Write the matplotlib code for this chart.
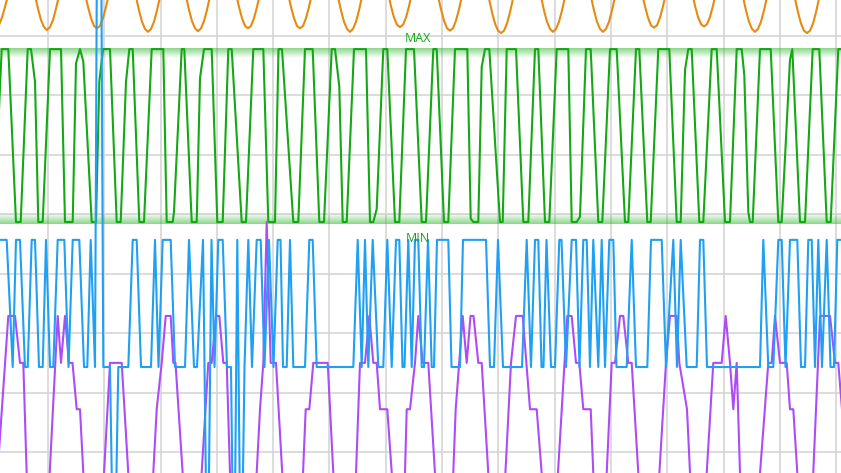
import numpy as np
import matplotlib
matplotlib.use("Agg")
import matplotlib.pyplot as plt
from matplotlib.colors import to_rgb

# ---------------- data (time, value) ----------------
green_pts = [(-6, 38.7), (1.7, 67.8), (8.3, 67.8), (16, 38.7), (20.7, 38.7), (27.7, 67.8), (31, 67.8), (35, 62.3),
             (38.3, 38.7), (42.7, 38.7), (50, 67.8), (61, 67.8), (65, 38.7), (72.7, 38.7), (76, 65.4), (80, 67.8),
             (83.3, 65.7), (91.7, 38.7), (96, 38.7), (99.3, 62.3), (103, 67.8), (110, 67.8), (116.7, 38.7),
             (120.7, 38.7), (126, 62.3), (129.3, 67.8), (132.7, 67.8), (139.3, 38.7), (144, 38.7), (151.7, 67.8),
             (163.3, 67.8), (166.7, 38.7), (172.7, 38.7), (174, 40.4), (181.7, 67.8), (184.3, 67.8), (191.7, 38.7),
             (196.7, 38.7), (200, 62.9), (204, 67.8), (211.7, 67.8), (217.3, 38.7), (222.7, 38.7), (228.3, 67.8),
             (231.7, 67.8), (241.7, 38.7), (246, 38.7), (253.3, 67.8), (263.3, 67.8), (268.3, 38.7), (275, 38.7),
             (278.5, 67.8), (282, 67.8), (293.3, 38.7), (298.3, 38.7), (305, 67.8), (312.7, 67.8), (319.3, 38.7),
             (324, 38.7), (331.7, 67.8), (335, 67.8), (339.3, 61.5), (342.7, 38.7), (346.7, 38.7), (354, 67.8),
             (366, 67.8), (370, 38.7), (373.3, 38.7), (376.7, 40.9), (383.3, 67.8), (387.3, 67.8), (395, 38.7),
             (399.3, 38.7), (406, 67.8), (414, 67.8), (421.7, 38.7), (426, 38.7), (433.3, 67.8), (436.7, 67.8),
             (444, 38.7), (448.3, 38.7), (455, 67.8), (467.3, 67.8), (470.7, 39.3), (473.3, 38.7), (478.3, 38.7),
             (481.7, 64.8), (485, 67.8), (489.3, 67.8), (500, 38.7), (502.7, 38.7), (506.7, 67.8), (516, 67.8),
             (523.3, 38.7), (528.3, 38.7), (535, 67.8), (538.3, 67.8), (545, 38.7), (549.3, 38.7), (556.7, 67.8),
             (568.3, 67.8), (571.7, 38.7), (576.7, 38.7), (580, 39.6), (586, 67.8), (590.7, 67.8), (598.3, 38.7),
             (602.3, 38.7), (610, 67.8), (616.7, 67.8), (625, 38.7), (628.3, 38.7), (636, 67.8), (639.3, 67.8),
             (647.3, 38.7), (650.7, 38.7), (658.3, 67.8), (669.3, 67.8), (676.7, 38.7), (680.7, 38.7), (685, 64.3),
             (688.3, 67.8), (691.7, 67.8), (699.3, 38.7), (703.3, 38.7), (711.7, 67.8), (716.7, 67.8), (725, 38.7),
             (730, 38.7), (736.7, 67.8), (741.7, 67.8), (744.3, 63.4), (748.3, 40.4), (750, 38.7), (752.7, 38.7),
             (760, 67.8), (770.7, 67.8), (778.3, 38.7), (781.7, 38.7), (790, 66.0), (792.3, 67.8), (800, 38.7),
             (805, 38.7), (812.7, 67.8), (819.3, 67.8), (826.7, 38.7), (830.7, 38.7), (838.3, 67.8), (845, 67.8)]
green_t, green_v = zip(*green_pts)

blue_pts = [(-2, 35.7), (6.7, 35.7), (12.7, 14.3), (16, 35.7), (20, 35.7), (25, 14.3), (27.7, 14.3), (31.7, 35.7),
            (35, 35.7), (39, 14.3), (42.7, 14.3), (46, 35.7), (50, 14.3), (53.3, 14.3), (57.7, 35.7), (64.3, 35.7),
            (68.5, 14.3), (72.7, 35.7), (79.3, 35.7), (84, 14.3), (87.3, 14.3), (90.7, 35.7), (95, 14.3),
            (99, 159.5), (103.3, 14.3), (110, 14.3), (114, -27.6), (118.3, 14.3), (128.3, 14.3), (132.7, 35.7),
            (136.7, 35.7), (141, 14.3), (151, 14.3), (155, 35.7), (158.5, 14.3), (162.7, 35.7), (170.7, 35.7),
            (175, 14.3), (185, 14.3), (189, 35.7), (194, 14.3), (197, 14.3), (203, 35.7), (207.5, -27.6),
            (211.5, 35.7), (214.5, 14.3), (218.3, 35.7), (222.7, 35.7), (227, 14.3), (231, 14.3), (234, -27.6),
            (237.3, 35.7), (241, -27.6), (244.5, 14.3), (248.3, 35.7), (252, 14.3), (256.7, 35.7), (260.7, 35.7),
            (264.5, 14.3), (269, 35.7), (273.5, 14.3), (277.7, 35.7), (280.5, 35.7), (283, 14.3), (286.7, 14.3),
            (290, 35.7), (293.3, 14.3), (305, 14.3), (309.3, 35.7), (312.7, 35.7), (316.7, 14.3), (353.3, 14.3),
            (357.7, 35.7), (361.7, 14.3), (365, 35.7), (368.3, 14.3), (372.7, 35.7), (378.3, 14.3), (383.3, 14.3),
            (387.3, 35.7), (391.7, 14.3), (396, 35.7), (399.3, 35.7), (402.5, 14.3), (404.5, 14.3), (408.3, 35.7),
            (411.7, 14.3), (415, 35.7), (418.3, 35.7), (421.7, 14.3), (424, 14.3), (428, 35.7), (431.7, 14.3),
            (434, 14.3), (437, 35.7), (448.3, 35.7), (451.5, 14.3), (460, 14.3), (463, 35.7), (486, 35.7),
            (490, 14.3), (494, 14.3), (498, 35.7), (503, 14.3), (522, 14.3), (526.7, 35.7), (531, 14.3),
            (535, 35.7), (538.3, 35.7), (541.5, 14.3), (543.5, 14.3), (546.5, 35.7), (551, 14.3), (555, 14.3),
            (559.3, 35.7), (561.5, 35.7), (566, 14.3), (571.7, 35.7), (576, 35.7), (579.5, 14.3), (583.3, 35.7),
            (586.7, 35.7), (590, 14.3), (593.3, 35.7), (598.3, 14.3), (601.7, 35.7), (605, 14.3), (609.3, 35.7),
            (613.3, 35.7), (616.5, 14.3), (626.7, 14.3), (631.7, 35.7), (636, 14.3), (647.3, 14.3), (651, 35.7),
            (661.7, 35.7), (666, 14.3), (673.3, 35.7), (677, 14.3), (680.7, 35.7), (686.7, 14.3), (696.7, 14.3),
            (700, 35.7), (703.3, 35.7), (707, 14.3), (760, 14.3), (763.3, 35.7), (768.3, 14.3), (773.3, 14.3),
            (778.3, 35.7), (781.7, 35.7), (785.5, 14.3), (790, 35.7), (797.3, 35.7), (801, 14.3), (805, 14.3),
            (808.3, 35.7), (811.7, 35.7), (815, 14.3), (818.3, 35.7), (822, 14.3), (826.7, 35.7), (830.5, 14.3),
            (834, 14.3), (837.3, 35.7), (845, 35.7)]
blue_t, blue_v = zip(*blue_pts)

purple_pts = [(-2, -2.3), (8.3, 22.9), (15, 22.9), (20, 15.0), (23.3, 15.0), (28.7, -14.8), (46.3, -14.8),
              (57.7, 22.9), (61, 15.0), (65, 22.9), (69, 15.0), (72.5, 15.0), (76.7, 7.2), (80, 7.2),
              (86.8, -14.8), (100.4, -14.8), (110, 15.0), (121.7, 15.0), (132.3, -14.8), (149.7, -14.8),
              (156.7, 7.2), (161.7, 15.0), (165.7, 22.9), (170.7, 22.9), (173.3, 15.0), (175.5, 15.0),
              (187, -14.8), (197.6, -14.8), (208.3, 15.0), (211.7, 15.0), (216, 22.9), (219.3, 22.9),
              (223.3, 15.0), (226.7, 15.0), (232, -14.8), (253.2, -14.8), (260, 7.2), (263.3, 15.0),
              (266.7, 38.7), (270.7, 15.0), (276, 15.0), (286, -14.8), (300.2, -14.8), (305.7, 7.2), (309.3, 7.2),
              (313.3, 15.0), (327.7, 15.0), (336.7, -14.8), (353.6, -14.8), (360, 15.0), (365, 15.0),
              (369.3, 22.9), (373.3, 15.0), (376.7, 15.0), (380, 7.2), (387.3, 7.2), (396.4, -14.8),
              (403.2, -14.8), (406.7, 7.2), (410, 7.2), (415, 15.0), (418.3, 22.9), (422.7, 15.0), (428.3, 15.0),
              (439, -14.8), (450.7, -14.8), (455.7, 7.2), (462.7, 22.9), (466.7, 15.0), (470.5, 22.9),
              (473.5, 22.9), (478.3, 15.0), (481.7, 15.0), (492.3, -14.8), (502, -14.8), (511, 15.0),
              (516, 22.9), (522.7, 22.9), (530, 7.2), (536.7, 7.2), (546.9, -14.8), (554, -14.8), (567.3, 22.9),
              (571.7, 22.9), (576, 15.0), (579.3, 15.0), (583.3, 7.2), (590.7, 7.2), (596, -14.8), (603.7, -14.8),
              (611.7, 15.0), (615, 15.0), (620, 22.9), (623.3, 22.9), (628.3, 15.0), (631.7, 15.0), (642.3, -14.8),
              (655.3, -14.8), (666, 15.0), (670, 22.9), (676.7, 22.9), (679.3, 15.0), (687, 7.2), (693.2, -14.8),
              (702.7, -14.8), (713.3, 15.0), (721.7, 15.0), (725.7, 22.9), (730, 15.0), (733.3, 7.2),
              (736.7, 15.0), (742, -14.8), (755, -14.8), (768.3, 15.0), (771.7, 15.0), (775, 22.9), (780, 15.0),
              (786.7, 15.0), (790, 7.2), (793.3, 7.2), (801.5, -14.8), (810.4, -14.8), (820, 22.9), (830, 22.9),
              (835, 15.0), (838.3, 15.0), (842, 7.2), (846, -14.8)]
purple_t, purple_v = zip(*purple_pts)

orange_pts = [(-16, 76.8), (-13, 74.9), (-10, 73.1), (-7, 71.9), (-4, 71.0), (-1, 71.9), (2, 73.1), (5, 74.9),
              (8, 76.8), (22, 83.8),
              (35, 76.8), (38, 74.6), (41, 72.7), (44, 71.5), (47, 71.0), (50, 71.5), (53, 72.7), (56, 74.6),
              (59, 76.8), (72, 83.8),
              (85, 77.1), (88, 74.9), (91, 73.0), (94, 71.7), (97, 71.3), (100, 71.7), (103, 73.0), (106, 74.9),
              (109, 77.1), (122, 83.8),
              (136, 76.6), (139, 74.3), (142, 72.4), (145, 71.2), (148, 70.7), (151, 71.2), (154, 72.4),
              (157, 74.3), (160, 76.6), (173, 83.8),
              (186, 76.7), (189, 74.4), (192, 72.5), (195, 71.3), (198, 70.8), (201, 71.3), (204, 72.5),
              (207, 74.4), (210, 76.7), (223, 83.8),
              (236, 77.1), (239, 74.9), (242, 73.0), (245, 71.7), (248, 71.3), (251, 71.7), (254, 73.0),
              (257, 74.9), (260, 77.1), (274, 83.8),
              (288, 77.1), (291, 74.9), (294, 73.0), (297, 71.7), (300, 71.3), (303, 71.7), (306, 73.0),
              (309, 74.9), (312, 77.1), (325, 83.8),
              (338, 76.6), (341, 74.3), (344, 72.4), (347, 71.2), (350, 70.7), (353, 71.2), (356, 72.4),
              (359, 74.3), (362, 76.6), (375, 83.8),
              (388, 77.3), (391, 75.0), (394, 73.1), (397, 71.9), (400, 71.5), (403, 71.9), (406, 73.1),
              (409, 75.0), (412, 77.3), (425, 83.8),
              (438, 76.7), (441, 74.5), (444, 72.6), (447, 71.3), (450, 70.9), (453, 71.3), (456, 72.6),
              (459, 74.5), (462, 76.7), (476, 83.8),
              (489, 76.3), (492, 74.0), (495, 72.1), (498, 70.9), (501, 70.5), (504, 70.9), (507, 72.1),
              (510, 74.0), (513, 76.3), (527, 83.8),
              (541, 76.6), (544, 74.3), (547, 72.4), (550, 71.2), (553, 70.7), (556, 71.2), (559, 72.4),
              (562, 74.3), (565, 76.6), (578, 83.8),
              (591, 76.6), (594, 74.3), (597, 72.4), (600, 71.2), (603, 70.7), (606, 71.2), (609, 72.4),
              (612, 74.3), (615, 76.6), (628, 83.8),
              (642, 77.2), (645, 75.0), (648, 73.1), (651, 71.8), (654, 71.4), (657, 71.8), (660, 73.1),
              (663, 75.0), (666, 77.2), (679, 83.8),
              (692, 77.4), (695, 75.1), (698, 73.2), (701, 72.0), (704, 71.6), (707, 72.0), (710, 73.2),
              (713, 75.1), (716, 77.4), (729, 83.8),
              (743, 76.6), (746, 74.3), (749, 72.4), (752, 71.2), (755, 70.7), (758, 71.2), (761, 72.4),
              (764, 74.3), (767, 76.6), (781, 83.8),
              (795, 76.3), (798, 74.0), (801, 72.1), (804, 70.9), (807, 70.5), (810, 70.9), (813, 72.1),
              (816, 74.0), (819, 76.3), (833, 83.8), (850, 83.8)]
orange_t, orange_v = zip(*orange_pts)

max_level = 67.8
min_level = 38.7
grid_t = [48 + 56.3 * k for k in range(15)]
grid_v = [0, 10, 20, 30, 40, 50, 60, 70]

# ---------------- drawing ----------------
fig = plt.figure(figsize=(8.41, 4.73), dpi=100)
ax = fig.add_axes([0, 0, 1, 1])
ax.set_xlim(0, 841)
ax.set_ylim(-3.53, 76.06)
for s in ax.spines.values():
    s.set_visible(False)
ax.set_xticks([])
ax.set_yticks([])

for g in grid_t:
    ax.axvline(g, color="#d5d5d5", lw=1.2, zorder=0)
for g in grid_v:
    ax.axhline(g, color="#d5d5d5", lw=1.2, zorder=0)

green = "#14a814"
gcol = to_rgb("#2db52d")
n = 64
grad = np.zeros((n, 1, 4))
grad[:, 0, :3] = gcol
grad[:, 0, 3] = np.linspace(0.55, 0.0, n)
ax.imshow(grad, extent=(0, 841, max_level - 1.5, max_level + 0.15), aspect="auto",
          origin="upper", zorder=1, interpolation="bilinear")
grad2 = np.zeros((n, 1, 4))
grad2[:, 0, :3] = gcol
grad2[:, 0, 3] = np.linspace(0.0, 0.55, n)
ax.imshow(grad2, extent=(0, 841, min_level - 0.25, min_level + 1.5), aspect="auto",
          origin="upper", zorder=1, interpolation="bilinear")

ax.plot(orange_t, orange_v, color="#e58a12", lw=1.5, zorder=2, solid_joinstyle="round")
ax.plot(green_t, green_v, color=green, lw=1.5, zorder=3, solid_joinstyle="round")
ax.plot(purple_t, purple_v, color="#ad4cf7", lw=1.5, zorder=4, solid_joinstyle="round")
ax.plot(blue_t, blue_v, color="#1fa0f2", lw=1.5, zorder=5, solid_joinstyle="round")

ax.text(418, 69.5, "MAX", color=green, fontsize=9, ha="center", va="center",
        family=["Open Sans", "DejaVu Sans"], zorder=6)
ax.text(418, 36.0, "MIN", color=green, fontsize=9, ha="center", va="center",
        family=["Open Sans", "DejaVu Sans"], zorder=6)

fig.savefig("out.png", dpi=100)
